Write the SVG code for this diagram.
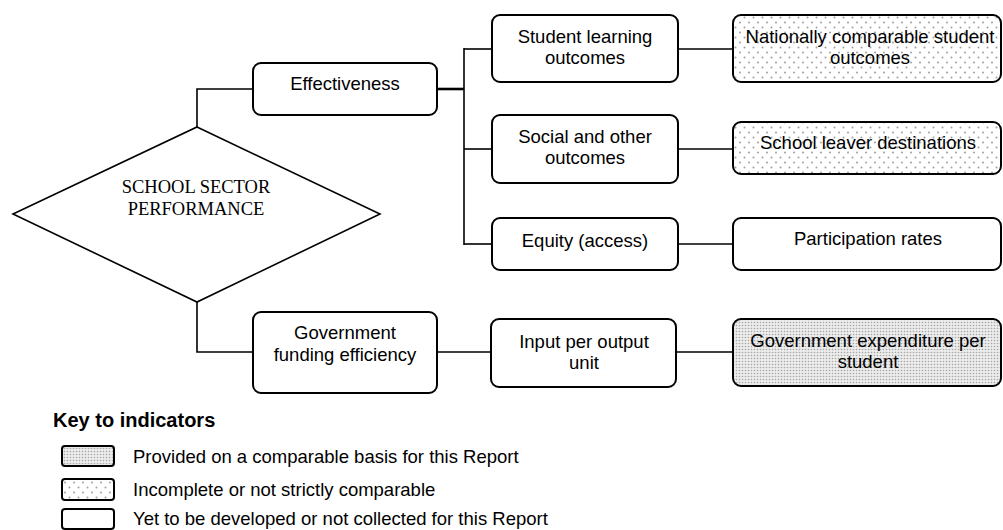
<svg xmlns="http://www.w3.org/2000/svg" width="1003" height="530" viewBox="0 0 1003 530">
<style>
.box{fill:#fff;stroke:#000;stroke-width:2}
.dense{fill:url(#densePat);stroke:#000;stroke-width:2}
.sparse{fill:url(#sparsePat);stroke:#000;stroke-width:2}
.t{font-family:"Liberation Sans",Arial,sans-serif;font-size:18.5px;fill:#000;text-anchor:middle}
.tl{font-family:"Liberation Sans",Arial,sans-serif;font-size:18.5px;fill:#000}
.d{font-family:"Liberation Serif","Times New Roman",serif;font-size:18.5px;fill:#000;text-anchor:middle}
.c{fill:none;stroke:#000;stroke-width:1.6}
</style>
<defs>
<pattern id="densePat" width="3" height="3" patternUnits="userSpaceOnUse">
<rect width="3" height="3" fill="#ececec"/>
<circle cx="1.5" cy="1.5" r="0.8" fill="#a6a6a6"/>
</pattern>
<pattern id="sparsePat" width="9" height="10" patternUnits="userSpaceOnUse">
<rect width="9" height="10" fill="#fff"/>
<circle cx="2" cy="2.5" r="1" fill="#a0a0a0"/>
<circle cx="6.5" cy="7.5" r="1" fill="#a0a0a0"/>
</pattern>
</defs>
<rect width="1003" height="530" fill="#fff"/>
<g id="connectors">
<polyline class="c" points="197,127 197,89 253,89"/>
<polyline class="c" points="197,302 197,352 253,352"/>
<line class="c" x1="437" y1="89" x2="464" y2="89" style="stroke-width:2.6"/>
<line class="c" x1="464" y1="48" x2="464" y2="245"/>
<line class="c" x1="464" y1="49" x2="492" y2="49"/>
<line class="c" x1="464" y1="149" x2="492" y2="149"/>
<line class="c" x1="464" y1="244" x2="492" y2="244"/>
<line class="c" x1="678" y1="49" x2="733" y2="49"/>
<line class="c" x1="678" y1="149" x2="733" y2="149"/>
<line class="c" x1="678" y1="244" x2="733" y2="244"/>
<line class="c" x1="437" y1="352" x2="491" y2="352"/>
<line class="c" x1="676" y1="352" x2="733" y2="352"/>
</g>
<g id="school-sector-performance">
<polygon points="197,127 380,214 197,302 13,214" fill="#fff" stroke="#000" stroke-width="1.6"/>
<text class="d" x="196" y="193">SCHOOL SECTOR</text>
<text class="d" x="196" y="215">PERFORMANCE</text>
</g>
<g id="effectiveness">
<rect class="box" x="253" y="63" width="184" height="52" rx="8"/>
<text class="t" x="345" y="90">Effectiveness</text>
</g>
<g id="government-funding-efficiency">
<rect class="box" x="253" y="312" width="184" height="81" rx="8"/>
<text class="t" x="345" y="339">Government</text>
<text class="t" x="345" y="361">funding efficiency</text>
</g>
<g id="student-learning-outcomes">
<rect class="box" x="492" y="15" width="186" height="67" rx="8"/>
<text class="t" x="585" y="43">Student learning</text>
<text class="t" x="585" y="64">outcomes</text>
</g>
<g id="social-and-other-outcomes">
<rect class="box" x="492" y="115" width="186" height="68" rx="8"/>
<text class="t" x="585" y="143">Social and other</text>
<text class="t" x="585" y="164">outcomes</text>
</g>
<g id="equity-access">
<rect class="box" x="492" y="218" width="186" height="52" rx="8"/>
<text class="t" x="585" y="247">Equity (access)</text>
</g>
<g id="input-per-output-unit">
<rect class="box" x="491" y="319" width="185" height="68" rx="8"/>
<text class="t" x="584" y="348">Input per output</text>
<text class="t" x="584" y="369">unit</text>
</g>
<g id="nationally-comparable-student-outcomes">
<rect class="sparse" x="733" y="15" width="268" height="67" rx="8"/>
<text class="t" x="870" y="43">Nationally comparable student</text>
<text class="t" x="870" y="64">outcomes</text>
</g>
<g id="school-leaver-destinations">
<rect class="sparse" x="733" y="122" width="268" height="52" rx="8"/>
<text class="t" x="868" y="149">School leaver destinations</text>
</g>
<g id="participation-rates">
<rect class="box" x="733" y="218" width="268" height="52" rx="8"/>
<text class="t" x="868" y="245">Participation rates</text>
</g>
<g id="government-expenditure-per-student">
<rect class="dense" x="733" y="319" width="268" height="67" rx="8"/>
<text class="t" x="868" y="347">Government expenditure per</text>
<text class="t" x="868" y="368">student</text>
</g>
<g id="key">
<text x="53" y="427" style="font-family:'Liberation Sans',Arial,sans-serif;font-size:20px;font-weight:bold">Key to indicators</text>
<rect class="dense" x="62" y="446" width="52" height="20" rx="3"/>
<text class="tl" x="133" y="463">Provided on a comparable basis for this Report</text>
<rect class="sparse" x="62" y="479" width="52" height="21" rx="3"/>
<text class="tl" x="133" y="496">Incomplete or not strictly comparable</text>
<rect class="box" x="62" y="509" width="52" height="20" rx="3"/>
<text class="tl" x="133" y="525">Yet to be developed or not collected for this Report</text>
</g>
</svg>
